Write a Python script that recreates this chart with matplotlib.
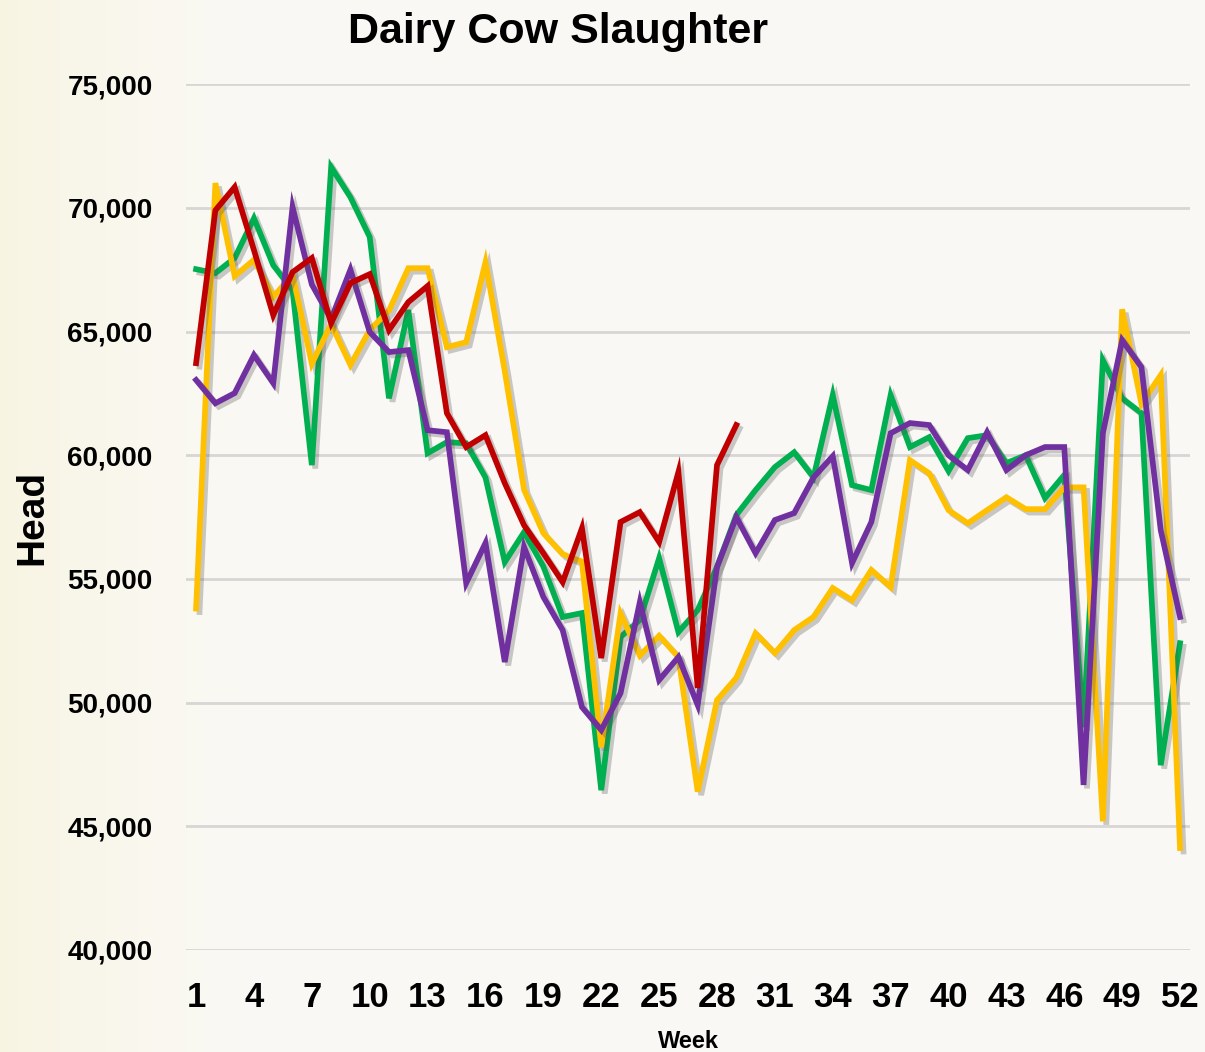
#!/usr/bin/env python3
"""Dairy cow slaughter by week, four years of weekly head counts."""

import matplotlib
matplotlib.use("Agg")
import matplotlib.pyplot as plt
import matplotlib.patheffects as pe
import numpy as np
from matplotlib.ticker import FuncFormatter

weeks = list(range(1, 53))

yellow = [53800, 71000, 67240, 67900, 66400, 67300, 63700, 65300, 63650, 65060,
          65850, 67560, 67560, 64370, 64570, 67800, 63400, 58600, 56850, 56000,
          55700, 48200, 53600, 51900, 52700, 51840, 46400, 50100, 51000, 52800,
          52000, 52930, 53460, 54630, 54140, 55360, 54670, 59800, 59270, 57780,
          57250, 57780, 58300, 57820, 57820, 58700, 58700, 45200, 65900, 62080,
          63240, 44120]
green = [67520, 67360, 67970, 69580, 67680, 66670, 59600, 71650, 70430, 68820,
         62300, 65870, 60080, 60530, 60480, 59100, 55680, 56890, 55500, 53460,
         53620, 46460, 52650, 53340, 55840, 52850, 53740, 55480, 57580, 58590,
         59520, 60120, 59100, 62430, 58790, 58590, 62430, 60330, 60730, 59360,
         60690, 60810, 59680, 60000, 58270, 59200, 49000, 63840, 62300, 61700,
         47470, 52400]
purple = [63040, 62100, 62510, 64050, 62910, 70030, 66900, 65500, 67500, 64980,
          64170, 64250, 61010, 60930, 54830, 56450, 51640, 56290, 54270, 52930,
          49820, 48890, 50380, 54060, 50910, 51840, 49900, 55480, 57500, 56040,
          57380, 57660, 59100, 59960, 55640, 57300, 60890, 61300, 61220, 60000,
          59400, 60930, 59400, 60000, 60330, 60330, 46670, 60890, 64650, 63560,
          56970, 53460]
red = [63720, 69900, 70840, 68290, 65660, 67400, 67970, 65340, 66960, 67320,
       65060, 66190, 66840, 61700, 60330, 60810, 58870, 57170, 56040, 54870,
       57050, 51800, 57300, 57700, 56490, 59320, 50590, 59600, 61220]

y_ticks = [40000, 45000, 50000, 55000, 60000, 65000, 70000, 75000]
x_ticks = list(range(1, 53, 3))

narrow = ["Liberation Sans Narrow", "Liberation Sans", "DejaVu Sans"]
sans = ["Liberation Sans", "DejaVu Sans"]

fig = plt.figure(figsize=(12.05, 10.52), dpi=100)
fig.patch.set_facecolor("#faf9f4")

# parchment-like background, a little yellow toward the left edge
bg = fig.add_axes([0, 0, 1, 1], zorder=-10)
t = np.linspace(0, 1, 600)
t = np.clip(t / 0.2, 0, 1) ** 0.7
left = np.array([0.972, 0.958, 0.885])
right = np.array([0.98, 0.976, 0.957])
img = left[None, :] * (1 - t[:, None]) + right[None, :] * t[:, None]
bg.imshow(np.repeat(img[None, :, :], 4, axis=0), aspect="auto",
          extent=[0, 1, 0, 1], interpolation="bilinear")
bg.set_xlim(0, 1)
bg.set_ylim(0, 1)
bg.axis("off")

ax = fig.add_axes([0.1544, 0.097, 0.8332, 0.823])
ax.set_facecolor("none")

shadow = [pe.SimpleLineShadow(offset=(2.5, -2.5), shadow_color="#555555", alpha=0.3),
          pe.Normal()]

series = [(green, "#00b050"), (yellow, "#ffc000"), (purple, "#7030a0"), (red, "#c00000")]
for vals, col in series:
    ax.plot(weeks[:len(vals)], vals, color=col, linewidth=4.1,
            solid_joinstyle="miter", path_effects=shadow)

ax.set_xlim(0.48, 52.52)
ax.set_ylim(40000, 75000)
ax.set_yticks(y_ticks)
ax.set_xticks(x_ticks)
ax.yaxis.set_major_formatter(FuncFormatter(lambda v, p: f"{int(v):,}"))
ax.grid(axis="y", color="#d8d6d4", linewidth=2)
ax.set_axisbelow(True)
for s in ax.spines.values():
    s.set_visible(False)
ax.tick_params(axis="both", length=0)
ax.tick_params(axis="y", pad=24)
ax.tick_params(axis="x", pad=22)
for lbl in ax.get_yticklabels():
    lbl.set_fontfamily(sans)
    lbl.set_fontweight("bold")
    lbl.set_fontsize(20)
for lbl in ax.get_xticklabels():
    lbl.set_fontfamily(narrow)
    lbl.set_fontweight("bold")
    lbl.set_fontsize(25)

ax.set_xlabel("Week", fontfamily=narrow, fontweight="bold", fontsize=17, labelpad=12)
fig.text(0.027, 0.508, "Head", rotation=90, ha="center", va="center",
         fontfamily=sans, fontweight="bold", fontsize=28)
fig.text(0.463, 0.970, "Dairy Cow Slaughter", ha="center", va="center",
         fontfamily=sans, fontweight="bold", fontsize=31)

plt.savefig("out.png", dpi=100, facecolor=fig.get_facecolor())
